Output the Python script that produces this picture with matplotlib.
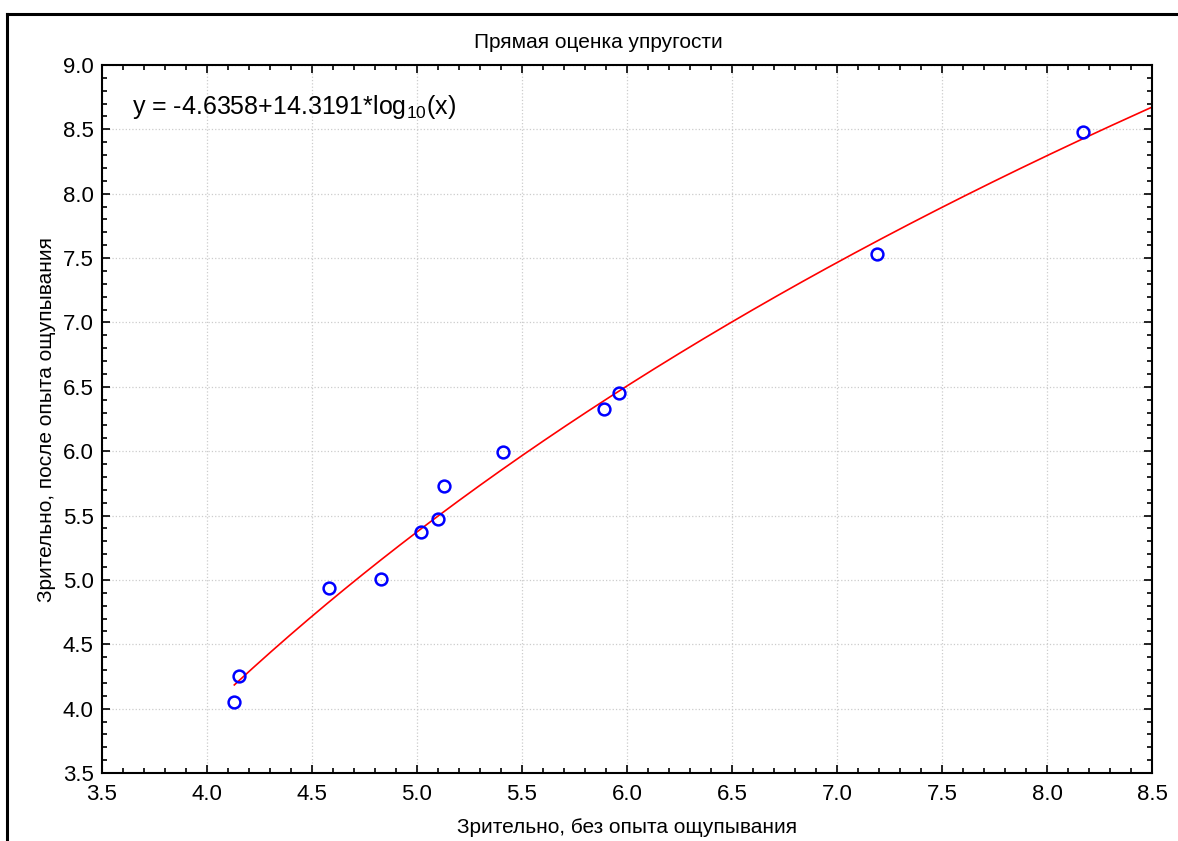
import matplotlib
matplotlib.use("Agg")
import matplotlib.pyplot as plt
from matplotlib.lines import Line2D
from matplotlib.ticker import MultipleLocator
import numpy as np

# Configuration
OUTPUT_IMAGE = "out.png"

plt.rcParams['font.family'] = ['Liberation Sans', 'DejaVu Sans']
plt.rcParams['mathtext.fontset'] = 'custom'
plt.rcParams['mathtext.rm'] = 'Liberation Sans'
plt.rcParams['mathtext.it'] = 'Liberation Sans:italic'

# Visual estimate without / after touching
visual_before = [4.13, 4.15, 4.58, 4.83, 5.02, 5.10, 5.13, 5.41, 5.89, 5.96, 7.19, 8.17]
visual_after = [4.05, 4.25, 4.94, 5.01, 5.37, 5.47, 5.73, 5.99, 6.33, 6.45, 7.53, 8.48]

# log10 fit coefficients
fit_a = -4.6358
fit_b = 14.3191

x_ticks = [3.5, 4.0, 4.5, 5.0, 5.5, 6.0, 6.5, 7.0, 7.5, 8.0, 8.5]
y_ticks = [3.5, 4.0, 4.5, 5.0, 5.5, 6.0, 6.5, 7.0, 7.5, 8.0, 8.5, 9.0]


def draw_frame(fig):
    w, h = fig.get_size_inches() * fig.dpi
    x0 = 7 / w
    y0 = 1 - 14 / h
    fig.add_artist(Line2D([x0, 1.0], [y0, y0], color='black', lw=2.2,
                          transform=fig.transFigure))
    fig.add_artist(Line2D([x0, x0], [0.0, y0], color='black', lw=2.2,
                          transform=fig.transFigure))


def plot_chart():
    fig = plt.figure(figsize=(11.78, 8.41), dpi=100)
    ax = fig.add_axes([102 / 1178, 68 / 841, 1050 / 1178, 708 / 841])

    x_fit = np.linspace(min(visual_before), 8.5, 300)
    y_fit = fit_a + fit_b * np.log10(x_fit)
    ax.plot(x_fit, y_fit, color='red', lw=1.2, zorder=2)

    ax.plot(visual_before, visual_after, 'o', ms=8.5, mfc='none', mec='blue',
            mew=1.8, zorder=3)

    ax.set_xlim(3.5, 8.5)
    ax.set_ylim(3.5, 9.0)
    ax.set_xticks(x_ticks)
    ax.set_yticks(y_ticks)
    ax.set_xticklabels([f"{v:.1f}" for v in x_ticks])
    ax.set_yticklabels([f"{v:.1f}" for v in y_ticks])
    ax.xaxis.set_minor_locator(MultipleLocator(0.1))
    ax.yaxis.set_minor_locator(MultipleLocator(0.1))
    ax.tick_params(which='both', direction='in', top=True, right=True,
                   width=1.2, labelsize=16)
    ax.tick_params(axis='x', pad=8)
    ax.tick_params(axis='y', pad=6)
    ax.tick_params(which='major', length=6)
    ax.tick_params(which='minor', length=3.5)
    for spine in ax.spines.values():
        spine.set_linewidth(1.5)

    ax.grid(True, which='major', color='#cccccc', linestyle=':', linewidth=0.9)
    ax.set_axisbelow(True)

    ax.set_title('Прямая оценка упругости', fontsize=15, pad=12, x=0.473)
    ax.set_xlabel('Зрительно, без опыта ощупывания', fontsize=15, labelpad=9)
    ax.set_ylabel('Зрительно, после опыта ощупывания', fontsize=15, labelpad=5)

    ax.text(0.0286, 0.941, r'y = -4.6358+14.3191*log$_{10}$(x)',
            transform=ax.transAxes, fontsize=18, va='center', ha='left')

    draw_frame(fig)
    fig.savefig(OUTPUT_IMAGE, dpi=100)


def main():
    plot_chart()


if __name__ == "__main__":
    main()
